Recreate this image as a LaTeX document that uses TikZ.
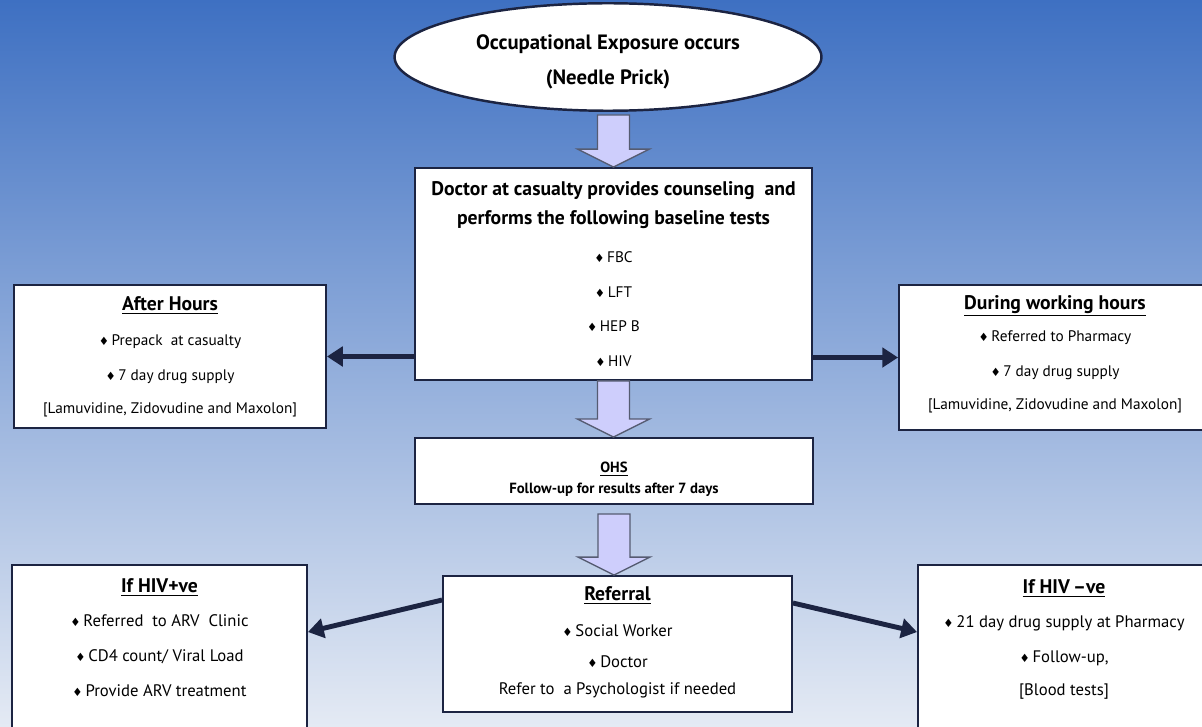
\documentclass[tikz,border=0pt]{standalone}
\usepackage{fontspec}
\setmainfont{PT Sans}
\newfontfamily\symfont{DejaVu Sans}
\usetikzlibrary{positioning,arrows.meta,shapes.geometric,calc}

\definecolor{navy}{RGB}{28,36,66}
\definecolor{lavender}{RGB}{206,206,252}
\definecolor{skytop}{RGB}{62,112,194}
\definecolor{skymid}{RGB}{150,176,222}
\definecolor{skybot}{RGB}{228,234,244}

\newcommand{\dmd}{{\symfont\fontsize{6.5}{6}\selectfont\char"2666}\,}
\newcommand{\ttl}[1]{{\fontsize{11.2}{20}\selectfont\bfseries\underline{#1}}}
% hollow block arrow between two boxes: #1 gap, #2 from, #3 to
\newcommand{\fatarrow}[3][0]{%
  \draw[fatarrow] ($(#2)+(-16,#1)$) -- ($(#2)+(16,#1)$)
    -- ($(#2 |- #3)+(16,-18)$) -- ($(#2 |- #3)+(36,-18)$) -- (#2 |- #3)
    -- ($(#2 |- #3)+(-36,-18)$) -- ($(#2 |- #3)+(-16,-18)$) -- cycle;}

\begin{document}
\begin{tikzpicture}[
  x=0.02cm, y=-0.02cm,
  every node/.style={font=\fontsize{8.7}{20}\selectfont, align=center},
  box/.style={draw=navy, line width=1.1pt, fill=white, rectangle, inner sep=2pt},
  lowbox/.style={box, font=\fontsize{9.5}{20}\selectfont},
  bubble/.style={draw=navy, line width=1.4pt, fill=white, ellipse, font=\bfseries\fontsize{11.8}{20}\selectfont},
  fatarrow/.style={draw=navy!75, line width=0.8pt, fill=lavender},
  arrow/.style={-{Triangle[length=9pt,width=11pt]}, line width=2.8pt, draw=navy}
]

\useasboundingbox (0,0) rectangle (1202,726);
\clip (0,0) rectangle (1202,726);
\shade[top color=skytop, middle color=skymid, bottom color=skybot] (0,0) rectangle (1202,726);

% Exposure
\node[bubble, minimum width=8.54cm, minimum height=1.9cm] (expo) at (608,57) {\rule{0pt}{14pt}Occupational Exposure occurs\\(Needle Prick)};

% Casualty and drug supply
\node[box, minimum width=7.94cm, minimum height=4.24cm] (doc) at (613.5,274) {{\bfseries\fontsize{11.2}{20}\selectfont Doctor at casualty provides counseling~ and}\\[-3.6pt]{\bfseries\fontsize{11.2}{20}\selectfont performs the following baseline tests}\\[1.5pt]\dmd FBC\\\dmd LFT\\[-0.7pt]\dmd HEP B\\\dmd HIV};
\node[box, minimum width=6.24cm, minimum height=2.86cm] (after) at (170,356.5) {\ttl{After Hours}\\\dmd Prepack~ at casualty\\\dmd 7 day drug supply\\[-1.5pt][Lamuvidine, Zidovudine and Maxolon]};
\node[box, minimum width=6.24cm, minimum height=2.9cm] (during) at (1055,357.5) {\ttl{During working hours}\\[-1.5pt]\dmd Referred to Pharmacy\\\dmd 7 day drug supply\\[-1.5pt][Lamuvidine, Zidovudine and Maxolon]\\[-14pt]~};

% Follow-up
\node[box, minimum width=7.96cm, minimum height=1.32cm] (ohs) at (614,471) {\rule{0pt}{15.5pt}{\bfseries\fontsize{8.4}{12}\selectfont\underline{OHS}}\\[-8pt]{\bfseries\fontsize{8.4}{12}\selectfont Follow-up for results after 7 days}};

% Outcomes
\node[lowbox, minimum width=6.98cm, minimum height=2.72cm] (ref) at (617.5,644) {\ttl{Referral}\\\dmd Social Worker\\[-2pt]\dmd Doctor\\[-5pt]Refer to~ a Psychologist if needed\\[-16pt]~};
\node[lowbox, minimum width=5.9cm, minimum height=3.4cm] (hivpos) at (159.5,650) {\ttl{If HIV+ve}\\[-1pt]\dmd Referred~ to ARV~ Clinic\\\dmd CD4 count/ Viral Load\\\dmd Provide ARV treatment\\[-6pt]~};
\node[lowbox, minimum width=5.84cm, minimum height=3.4cm] (hivneg) at (1064,650) {\ttl{If HIV\,--ve}\\[-1pt]\dmd 21 day drug supply at Pharmacy\\\dmd Follow-up,\\[-1pt][Blood tests]\\[-6pt]~};

% Block arrows down the middle
\fatarrow[3]{doc.north |- expo.south}{doc.north}
\fatarrow{doc.south}{ohs.north}
\fatarrow[9]{ohs.south}{ref.north}

% Side arrows
\draw[arrow] (doc.west |- after.east) -- (after.east);
\draw[arrow] (doc.east |- during.west) -- (during.west);
\draw[arrow] ([yshift=0.88cm]ref.west) -- ([yshift=0.36cm]hivpos.east);
\draw[arrow] ([yshift=0.82cm]ref.east) -- ([yshift=0.36cm]hivneg.west);

\end{tikzpicture}
\end{document}
